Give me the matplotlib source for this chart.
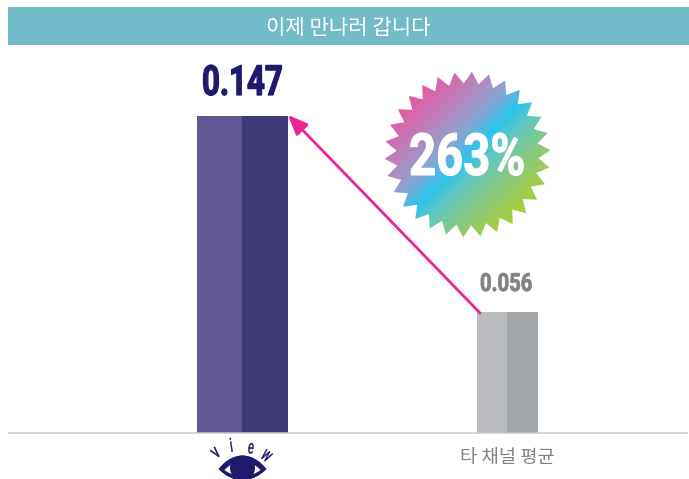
import matplotlib
matplotlib.use("Agg")
import matplotlib.pyplot as plt
import numpy as np
from matplotlib.colors import LinearSegmentedColormap
from matplotlib.patches import Ellipse, PathPatch, Polygon, Rectangle
from matplotlib.path import Path
from matplotlib.patheffects import AbstractPathEffect
from matplotlib.transforms import Affine2D

# data
title = "이제 만나러 갑니다"
categories = ["view", "타 채널 평균"]
values = [0.147, 0.056]
value_labels = ["0.147", "0.056"]
growth_label = "263%"

W, H = 689, 479
KR = ["Noto Sans CJK KR", "DejaVu Sans"]
NUM = ["Roboto", "DejaVu Sans"]


class Squeeze(AbstractPathEffect):
    """Narrow the glyphs horizontally, there is no condensed font installed"""

    def __init__(self, sx, stroke=0.0):
        super().__init__()
        self.sx = sx
        self.stroke = stroke

    def draw_path(self, renderer, gc, tpath, affine, rgbFace=None):
        gc0 = renderer.new_gc()
        gc0.copy_properties(gc)
        gc0.set_linewidth(self.stroke)
        gc0.set_foreground(rgbFace)
        renderer.draw_path(gc0, tpath, Affine2D().scale(self.sx, 1) + affine, rgbFace)
        gc0.restore()


fig = plt.figure(figsize=(W / 100, H / 100), dpi=100, facecolor="white")

# overlay in pixel coordinates for the decoration
deco = fig.add_axes([0, 0, 1, 1], zorder=3)
deco.set_xlim(0, W)
deco.set_ylim(H, 0)
deco.axis("off")
deco.patch.set_alpha(0)

# bars, y scale runs from the baseline up to the top of the tallest bar
base_px, top_px = 433, 116
ax = fig.add_axes([0, 1 - base_px / H, 1, (base_px - top_px) / H], zorder=2)
ax.set_xlim(0, W)
ax.set_ylim(0, max(values))
ax.axis("off")
ax.patch.set_alpha(0)

bar_spans = [(197, 242, 288), (477, 507, 538)]
bar_colors = [("#5F5895", "#403A7A"), ("#B9BBBF", "#A4A7A9")]
for v, (x0, xm, x1), (c0, c1) in zip(values, bar_spans, bar_colors):
    ax.bar(x0, v, xm - x0, align="edge", color=c0, lw=0)
    ax.bar(xm, v, x1 - xm, align="edge", color=c1, lw=0)

# title band
deco.add_patch(Rectangle((8, 7), 681, 38, fc="#72BBC8", lw=0))
deco.text(348.5, 28, title, color="white", fontsize=15.2, fontweight="light",
          ha="center", va="center", family=KR)

# baseline
deco.plot([8, 688], [base_px, base_px], color="#C9C9CA", lw=1.1, solid_capstyle="butt")

# value labels
deco.text(202, 95, value_labels[0], color="#1F1A6E", fontsize=30, fontweight="bold",
          ha="left", va="baseline", family=NUM, path_effects=[Squeeze(0.75, 0.9)])
deco.text(480, 291, value_labels[1], color="#808285", fontsize=18, fontweight="bold",
          ha="left", va="baseline", family=NUM, path_effects=[Squeeze(0.81, 0.6)])

# category label
deco.text(507, 457, categories[1], color="#808285", fontsize=13.5, fontweight="light",
          ha="center", va="center", family=KR)

# arrow
deco.annotate("", xy=(288, 115), xytext=(480, 313),
              arrowprops=dict(arrowstyle="-|>,head_length=1.2,head_width=0.5",
                              color="#EC2490", lw=2.0, shrinkA=0, shrinkB=0))

# starburst with a diagonal gradient
cx, cy = 467.5, 154.5
n_spikes = 30
angles = np.linspace(0, 2 * np.pi, n_spikes * 2, endpoint=False) + np.deg2rad(-87)
radii = np.where(np.arange(n_spikes * 2) % 2 == 0, 83, 71)
star = np.c_[cx + radii * np.cos(angles), cy + radii * np.sin(angles)]
star_patch = Polygon(star, closed=True, fc="none", ec="none", transform=deco.transData)
deco.add_patch(star_patch)

xx, yy = np.meshgrid(np.arange(cx - 90, cx + 90), np.arange(cy - 90, cy + 90))
grad = ((xx - cx) + (yy - cy)) / (2 * 83 * np.sqrt(2)) + 0.5
cmap = LinearSegmentedColormap.from_list(
    "burst",
    [(0, "#E9559F"), (0.2, "#BC80B8"), (0.36, "#8FA3CF"), (0.5, "#2CC4EE"),
     (0.6, "#5FC8C0"), (0.75, "#86C986"), (0.92, "#A2CD45"), (1, "#A6CE39")])
im = deco.imshow(grad, cmap=cmap, vmin=0, vmax=1, aspect="auto", interpolation="bilinear",
                 extent=(cx - 90, cx + 90, cy + 90, cy - 90), zorder=1)
im.set_clip_path(star_patch)
deco.set_xlim(0, W)
deco.set_ylim(H, 0)

deco.text(409, 175, growth_label, color="white", fontsize=42, fontweight="bold",
          ha="left", va="baseline", family=NUM, zorder=4, path_effects=[Squeeze(0.81, 0.8)])

# view logo
navy = "#1F1A6E"
ex, ey = 242.5, 467
outer = [(-24, 2), (-10, -16), (10, -16), (24, 2), (10, 17), (-10, 17), (-24, 2)]
inner = [(-18, 3), (-8, -8), (8, -8), (18, 3), (8, 11), (-8, 11), (-18, 3)]
codes = [Path.MOVETO, Path.CURVE4, Path.CURVE4, Path.CURVE4, Path.CURVE4, Path.CURVE4, Path.CURVE4]
deco.add_patch(PathPatch(Path([(ex + a, ey + b) for a, b in outer], codes), fc=navy, lw=0, clip_on=False))
deco.add_patch(PathPatch(Path([(ex + a, ey + b) for a, b in inner], codes), fc="white", lw=0, clip_on=False))
deco.add_patch(Ellipse((ex, ey + 1), 25, 25, fc=navy, lw=0, clip_on=False))
for ch, x, y, rot, sx in zip(categories[0], [213, 230, 248, 263], [455, 447, 448, 453],
                             [40, 8, -8, -38], [0.75, 0.6, 0.55, 0.6]):
    deco.text(x, y, ch, color=navy, fontsize=14, rotation=rot, rotation_mode="anchor",
              ha="left", va="center", family=NUM, path_effects=[Squeeze(sx, 0.3)])

fig.savefig("out.png", dpi=100, facecolor="white")
